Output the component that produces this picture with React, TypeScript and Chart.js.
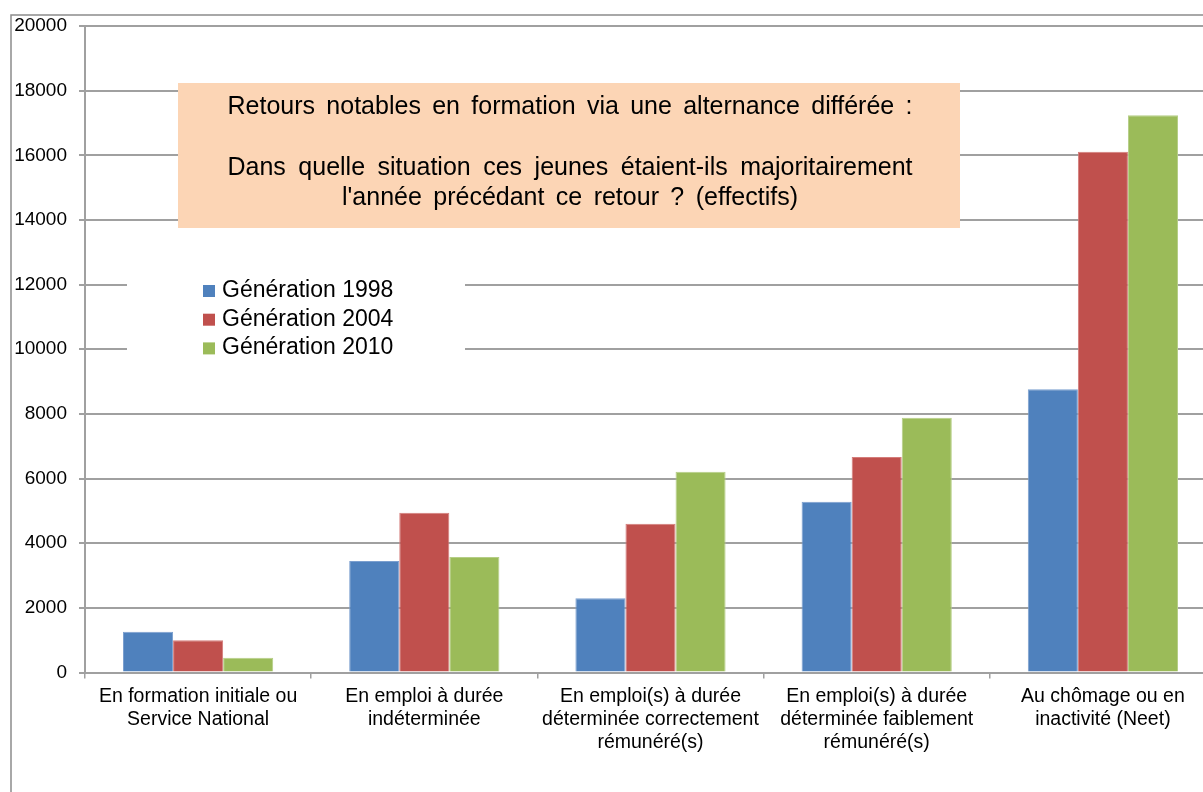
import React, { useEffect, useRef } from "react";
import { Chart, registerables } from "chart.js";

Chart.register(...registerables);

const categories: string[][] = [
  ["En formation initiale ou", "Service National"],
  ["En emploi à durée", "indéterminée"],
  ["En emploi(s) à durée", "déterminée correctement", "rémunéré(s)"],
  ["En emploi(s) à durée", "déterminée faiblement", "rémunéré(s)"],
  ["Au chômage ou en", "inactivité (Neet)"],
];
const seriesLabels = ["Génération 1998", "Génération 2004", "Génération 2010"];
const gen1998 = [1260, 3450, 2300, 5280, 8760];
const gen2004 = [1000, 4940, 4600, 6670, 16110];
const gen2010 = [460, 3570, 6210, 7880, 17240];
const yMin = 0;
const yMax = 20000;
const yStep = 2000;
const titleLines = [
  "Retours notables en formation via une alternance différée :",
  "",
  "Dans quelle situation ces jeunes étaient-ils majoritairement",
  "l'année précédant ce retour ? (effectifs)",
];

const COLORS = ["#4F81BD", "#C0504D", "#9BBB59"];
const EDGES = ["#7B9FCF", "#D47C7A", "#B5CE86"];
const FONT = "Arial, 'Liberation Sans', sans-serif";
const GRID = "#A0A0A0";

function drawSpacedLine(ctx: CanvasRenderingContext2D, text: string, cx: number, y: number, target: number) {
  const words = text.split(" ");
  const widths = words.map((w) => ctx.measureText(w).width);
  const sum = widths.reduce((a, b) => a + b, 0);
  const gap = words.length > 1 ? (target - sum) / (words.length - 1) : 0;
  let x = cx - target / 2;
  ctx.textAlign = "left";
  words.forEach((w, i) => {
    ctx.fillText(w, x, y);
    x += widths[i] + gap;
  });
}

const decorPlugin = {
  id: "decor",
  beforeDraw(chart: any) {
    const ctx = chart.ctx;
    ctx.save();
    ctx.fillStyle = "#ffffff";
    ctx.fillRect(0, 0, chart.width, chart.height);
    ctx.strokeStyle = "#8c8c8c";
    ctx.lineWidth = 1.5;
    ctx.strokeRect(11, 15, chart.width + 50, chart.height + 50);
    ctx.restore();
  },
  afterDraw(chart: any) {
    const ctx = chart.ctx;
    ctx.save();
    // title box
    ctx.fillStyle = "#FCD5B5";
    ctx.fillRect(178, 83, 782, 145);
    ctx.fillStyle = "#000000";
    ctx.font = `25px ${FONT}`;
    ctx.textBaseline = "alphabetic";
    const baselines = [114, 0, 175, 205];
    const targets = [685, 0, 685, 456];
    titleLines.forEach((line, i) => {
      if (line) drawSpacedLine(ctx, line, 570, baselines[i], targets[i]);
    });
    // legend
    ctx.fillStyle = "#ffffff";
    ctx.fillRect(127, 262, 338, 110);
    ctx.font = `23px ${FONT}`;
    ctx.textAlign = "left";
    chart.data.datasets.forEach((ds: any, i: number) => {
      const base = 297 + i * 28.7;
      ctx.fillStyle = ds.backgroundColor;
      ctx.fillRect(203, base - 12, 12, 12);
      ctx.fillStyle = "#000000";
      ctx.fillText(ds.label, 222, base);
    });
    ctx.restore();
  },
};

export default function App() {
  const ref = useRef<HTMLCanvasElement | null>(null);
  useEffect(() => {
    if (!ref.current) return;
    const chart = new Chart(ref.current, {
      type: "bar",
      data: {
        labels: categories,
        datasets: [gen1998, gen2004, gen2010].map((d, i) => ({
          label: seriesLabels[i],
          data: d,
          backgroundColor: COLORS[i],
          borderColor: EDGES[i],
          borderWidth: 1,
          borderSkipped: "bottom",
          barPercentage: 1,
          categoryPercentage: 0.664,
        })),
      },
      options: {
        responsive: false,
        animation: false,
        devicePixelRatio: 1,
        layout: { padding: { left: 0, right: 14, top: 26, bottom: 0 } },
        plugins: {
          legend: { display: false },
          tooltip: { enabled: false },
          title: { display: false },
        },
        scales: {
          x: {
            grid: {
              display: true,
              drawOnChartArea: false,
              drawTicks: true,
              tickLength: 6,
              color: GRID,
              lineWidth: 1.5,
            },
            border: { display: true, color: GRID, width: 2 },
            ticks: {
              color: "#000000",
              font: { family: FONT, size: 19.5, lineHeight: 1.2 },
              maxRotation: 0,
              autoSkip: false,
              padding: 6,
            },
            afterFit(scale: any) {
              scale.height = 119.5;
            },
          },
          y: {
            min: yMin,
            max: yMax,
            grid: {
              color: GRID,
              lineWidth: 2,
              tickLength: 6,
              drawTicks: true,
            },
            border: { display: true, color: GRID, width: 2 },
            ticks: {
              stepSize: yStep,
              color: "#000000",
              font: { family: FONT, size: 19 },
              padding: 12,
              callback: (v: any) => String(v),
            },
            afterFit(scale: any) {
              scale.width = 85;
            },
          },
        },
      },
      plugins: [decorPlugin],
    });
    return () => chart.destroy();
  }, []);
  return (
    <div
      style={{
        position: "absolute",
        left: 0,
        top: 0,
        width: 1203,
        height: 792,
        overflow: "hidden",
        background: "#fff",
      }}
    >
      <canvas ref={ref} width={1230} height={792} style={{ display: "block" }} />
    </div>
  );
}
